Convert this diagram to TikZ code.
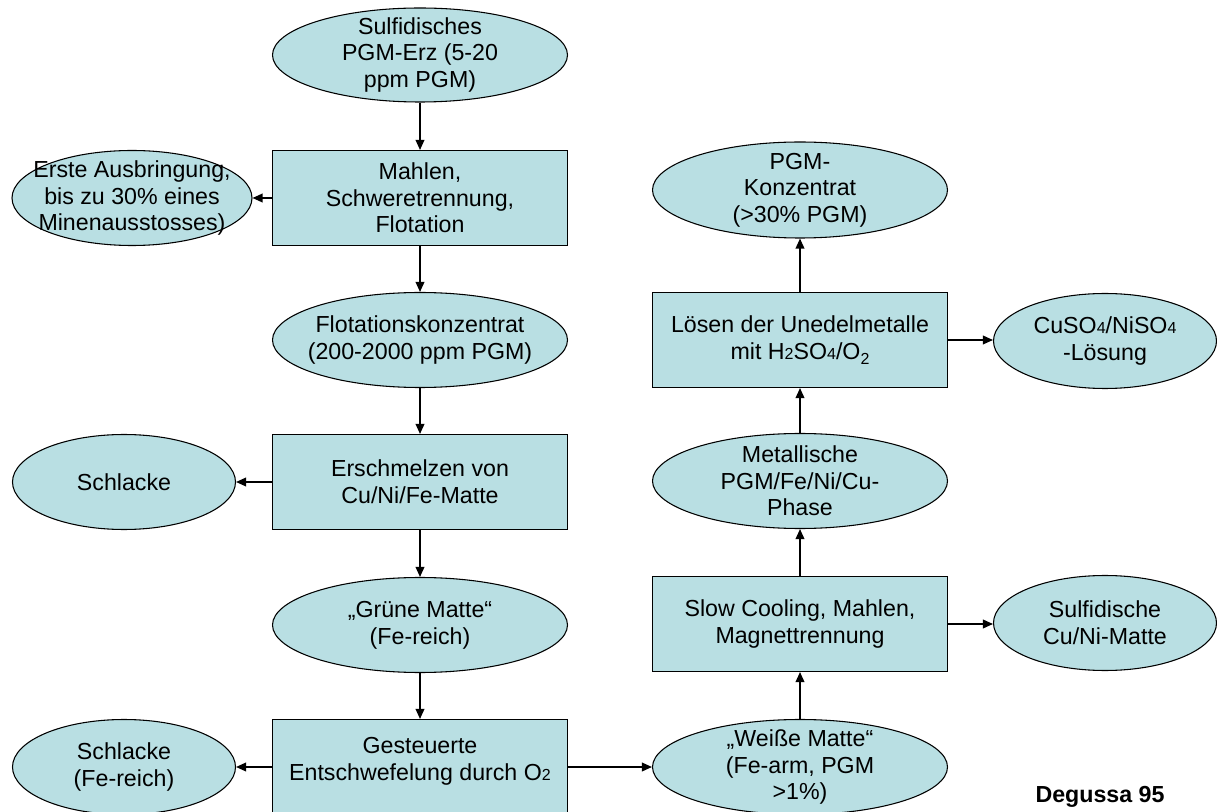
\documentclass[tikz,border=0pt]{standalone}
\usepackage{fontspec}
\setmainfont{Liberation Sans}
\usetikzlibrary{arrows.meta,shapes.geometric}
\definecolor{shapefill}{RGB}{185,223,227}
\newcommand\smdig[1]{{\fontsize{12}{12}\selectfont #1}}
\newcommand\lowdig[1]{\raisebox{-0.4ex}{\fontsize{12}{12}\selectfont #1}}
\begin{document}
\begin{tikzpicture}[x=0.75pt,y=-0.75pt,
  shp/.style={draw=black,line width=0.8pt,fill=shapefill,inner sep=0pt,
    minimum width=221.25pt,minimum height=71.25pt},
  boxshape/.style={shp,rectangle},
  ellshape/.style={shp,ellipse},
  sideell/.style={ellshape,minimum width=167.25pt},
  txt/.style={align=center,inner sep=0pt,font=\fontsize{17.4}{20}\selectfont},
  arr/.style={line width=1.1pt,-{Triangle[length=7.5pt,width=6.5pt]}}]
\clip (0,0) rectangle (1217,812);
\fill[white] (0,0) rectangle (1217,812);
% left column
\node[ellshape,minimum height=70.5pt] (s0) at (420,55) {};
\node[txt] (s0t) at (s0) {Sulfidisches\\PGM-Erz (5-20\\ppm PGM)};
\node[boxshape] (b1) at (420,198) {};
\node[txt] (b1t) at (b1) {Mahlen,\\Schweretrennung,\\Flotation};
\node[sideell,minimum width=180pt] (e1) at (132,198) {};
\node[txt] (e1t) at (e1) {Erste Ausbringung,\\bis zu 30\% eines\\Minenausstosses)};
\node[ellshape] (s2) at (420,340) {};
\node[txt] (s2t) at (s2) {Flotationskonzentrat\\(200-2000 ppm PGM)};
\node[boxshape] (b3) at (420,482) {};
\node[txt] (b3t) at (b3) {Erschmelzen von\\Cu/Ni/Fe-Matte};
\node[sideell] (e3) at (124,482) {};
\node[txt] (e3t) at (e3) {Schlacke};
\node[ellshape] (s4) at (420,625) {};
\node[txt] (s4t) at (s4) {„Grüne Matte“\\(Fe-reich)};
\node[boxshape] (b5) at (420,767) {};
\node[txt] (b5t) at ([yshift=4.5pt]b5.center) {Gesteuerte\\Entschwefelung durch O\smdig{2}};
\node[sideell] (e5) at (124,767) {};
\node[txt] (e5t) at (e5) {Schlacke\\(Fe-reich)};
% right column
\node[ellshape] (s5) at (800,767) {};
\node[txt] (s5t) at (s5) {„Weiße Matte“\\(Fe-arm, PGM\\>1\%)};
\node[boxshape] (b4) at (800,624) {};
\node[txt] (b4t) at (b4) {Slow Cooling, Mahlen,\\Magnettrennung};
\node[sideell] (e4) at (1105,623) {};
\node[txt] (e4t) at (e4) {Sulfidische\\Cu/Ni-Matte};
\node[ellshape] (s3) at (800,481) {};
\node[txt] (s3t) at (s3) {Metallische\\PGM/Fe/Ni/Cu-\\Phase};
\node[boxshape] (b2) at (800,340) {};
\node[txt] (b2t) at (b2) {Lösen der Unedelmetalle\\mit H\smdig{2}SO\smdig{4}/O\lowdig{2}};
\node[sideell] (e2) at (1105,341) {};
\node[txt] (e2t) at (e2) {CuSO\smdig{4}/NiSO\smdig{4}\\-Lösung};
\node[ellshape,minimum height=72pt] (s1) at (800,190) {};
\node[txt] (s1t) at (s1) {PGM-\\Konzentrat\\(>30\% PGM)};
\node[txt,font=\fontsize{17.4}{20}\selectfont\bfseries] (deg) at (1100,797) {Degussa 95};
% connectors
\draw[arr] (s0) -- (b1);
\draw[arr] (b1.west) -- (e1.east);
\draw[arr] (b1) -- (s2);
\draw[arr] (s2) -- (b3);
\draw[arr] (b3.west) -- (e3.east);
\draw[arr] (b3) -- (s4);
\draw[arr] (s4) -- (b5);
\draw[arr] (b5.west) -- (e5.east);
\draw[arr] (b5.east) -- (s5.west);
\draw[arr] (s5) -- (b4);
\draw[arr] (b4.east) -- (b4.east -| e4.west);
\draw[arr] (b4) -- (s3);
\draw[arr] (s3) -- (b2);
\draw[arr] (b2.east) -- (b2.east -| e2.west);
\draw[arr] (b2) -- (s1);
\end{tikzpicture}
\end{document}
